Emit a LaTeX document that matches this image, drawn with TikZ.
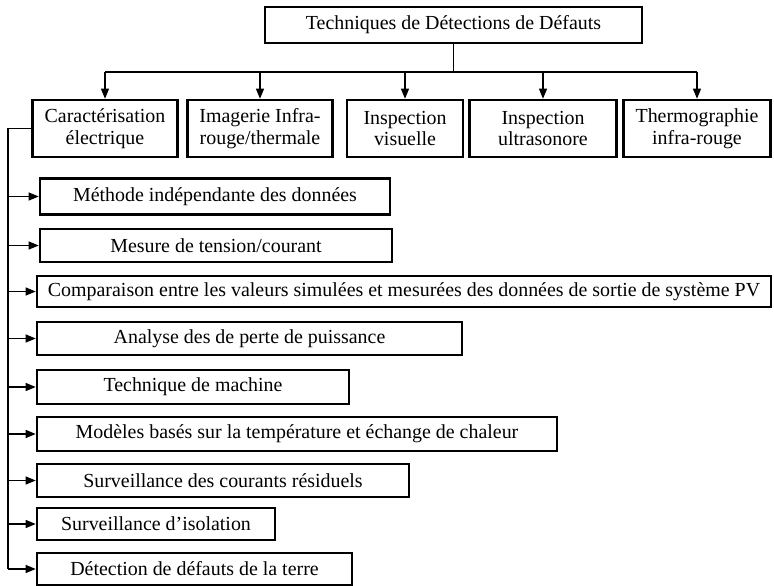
\documentclass[tikz,border=0pt]{standalone}
\usepackage{fontspec}
\setmainfont{Liberation Serif}
\usetikzlibrary{arrows.meta}
\begin{document}
\begin{tikzpicture}[x=1bp,y=-1bp,
  box/.style={draw,line width=2.6bp,inner sep=0pt,align=center,font=\fontsize{20}{22}\selectfont},
  conn/.style={line width=1.2bp},
  arr/.style={conn,-{Triangle[length=10bp,width=8bp]}}]
\useasboundingbox (0,0) rectangle (774,586);
% top
\node[box,minimum width=377bp,minimum height=36bp] (top) at (453.5,25) {Techniques de Détections de Défauts};
% second level
\node[box,minimum width=145bp,minimum height=57bp] (b1) at (105,128.5) {Caractérisation\\électrique};
\node[box,minimum width=145bp,minimum height=57bp] (b2) at (260,128.5) {Imagerie Infra-\\rouge/thermale};
\node[box,minimum width=116bp,minimum height=57bp] (b3) at (405,128.5) {Inspection\\visuelle};
\node[box,minimum width=147bp,minimum height=57bp] (b4) at (543,128.5) {Inspection\\ultrasonore};
\node[box,minimum width=147bp,minimum height=57bp] (b5) at (697,128.5) {Thermographie\\infra-rouge};
\coordinate (hub) at (453.5,72);
\draw[conn] (top.south) -- (hub);
\draw[conn] (hub -| b1) -- (hub -| b5);
\foreach \b in {b1,b2,b3,b4,b5} \draw[arr] (hub -| \b) -- (\b.north);
% list
\node[box,minimum width=350bp,minimum height=36bp] (l1) at (215,196.5) {Méthode indépendante des données};
\node[box,minimum width=352bp,minimum height=33bp] (l2) at (216,245.5) {Mesure de tension/courant};
\node[box,minimum width=734bp,minimum height=31bp] (l3) at (404,291.5) {Comparaison entre les valeurs simulées et mesurées des données de sortie de système PV};
\node[box,minimum width=425bp,minimum height=33bp] (l4) at (249.5,338.5) {Analyse des de perte de puissance};
\node[box,minimum width=312bp,minimum height=34bp] (l5) at (193,387) {Technique de machine};
\node[box,minimum width=520bp,minimum height=34bp] (l6) at (297,434) {Modèles basés sur la température et échange de chaleur};
\node[box,minimum width=372bp,minimum height=33bp] (l7) at (223,480.5) {Surveillance des courants résiduels};
\node[box,minimum width=238bp,minimum height=32bp] (l8) at (156,524) {Surveillance d’isolation};
\node[box,minimum width=315bp,minimum height=32bp] (l9) at (194.5,569) {Détection de défauts de la terre};
\coordinate (trunk) at (8,128.5);
\draw[conn] (b1.west) -- (trunk) -- (trunk |- l9.west);
\foreach \l in {l1,l2,l3,l4,l5,l6,l7,l8,l9} \draw[arr] (trunk |- \l.west) -- (\l.west);
\end{tikzpicture}
\end{document}
